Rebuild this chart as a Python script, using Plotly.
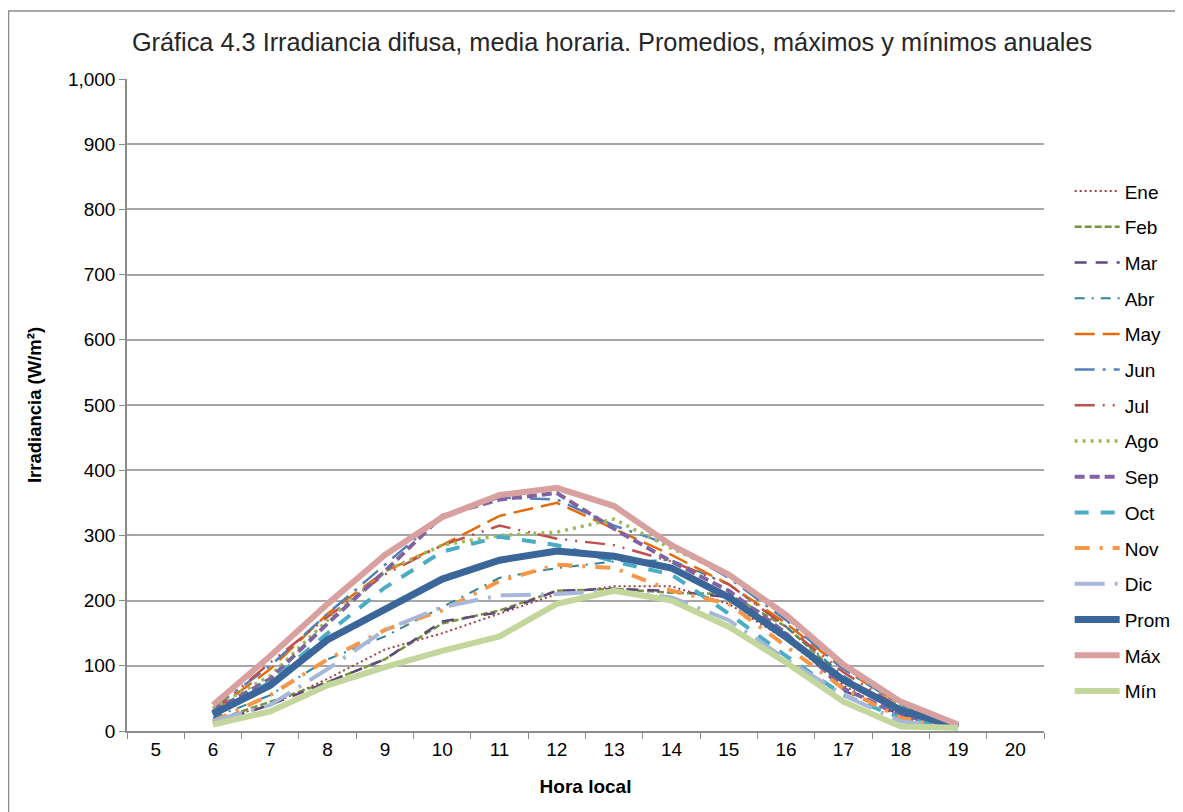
import plotly.graph_objects as go

horas = [str(h) for h in range(6, 20)]
categorias = [str(h) for h in range(5, 21)]

ene = [15, 40, 80, 125, 150, 180, 210, 222, 222, 195, 140, 70, 20, 5]
feb = [15, 45, 75, 110, 165, 185, 215, 218, 212, 210, 160, 80, 30, 5]
mar = [12, 40, 75, 110, 168, 182, 215, 218, 215, 205, 150, 62, 25, 5]
abr = [20, 55, 110, 145, 190, 235, 250, 260, 262, 225, 160, 85, 30, 5]
may = [30, 95, 180, 245, 285, 330, 350, 310, 270, 225, 165, 95, 40, 8]
jun = [35, 100, 180, 255, 330, 358, 355, 315, 285, 235, 170, 95, 40, 8]
jul = [30, 105, 175, 240, 285, 315, 295, 285, 260, 225, 160, 90, 35, 8]
ago = [35, 85, 170, 245, 285, 300, 305, 325, 280, 240, 175, 100, 40, 8]
sep = [30, 80, 165, 245, 330, 355, 365, 310, 260, 215, 150, 65, 25, 5]
oct_ = [25, 75, 150, 220, 275, 298, 285, 260, 240, 180, 115, 55, 20, 5]
nov = [15, 55, 110, 155, 185, 230, 255, 250, 215, 195, 130, 65, 20, 5]
dic = [15, 40, 95, 155, 190, 208, 210, 215, 205, 170, 110, 55, 15, 5]
prom = [26, 70, 140, 186, 233, 262, 276, 268, 250, 205, 144, 78, 32, 6]
maxi = [40, 115, 195, 270, 328, 362, 373, 345, 285, 240, 178, 102, 45, 10]
mini = [10, 30, 70, 98, 123, 145, 195, 215, 200, 160, 105, 45, 7, 5]

series = [
    ("Ene", ene, "#A0403E", 2, "2px,3px"),
    ("Feb", feb, "#77933C", 2.5, "7px,3px"),
    ("Mar", mar, "#604A7B", 2.5, "12px,9px"),
    ("Abr", abr, "#31859C", 2, "10px,7px,2px,7px"),
    ("May", may, "#E46C0A", 2.5, "20px,8px"),
    ("Jun", jun, "#4F81BD", 2.5, "20px,8px,3px,8px"),
    ("Jul", jul, "#C0504D", 2.5, "20px,8px,2px,8px,2px,8px"),
    ("Ago", ago, "#9BBB59", 3.5, "3px,5px"),
    ("Sep", sep, "#8064A2", 4, "10px,5px"),
    ("Oct", oct_, "#4BACC6", 4, "14px,12px"),
    ("Nov", nov, "#F79646", 4, "15px,10px,3px,10px"),
    ("Dic", dic, "#A6B7D9", 4, "30px,10px,3px,10px"),
    ("Prom", prom, "#3A6699", 7, "solid"),
    ("Máx", maxi, "#D9A0A0", 6, "solid"),
    ("Mín", mini, "#C3D69B", 6, "solid"),
]

fig = go.Figure()
for nombre, valores, color, ancho, trazo in series:
    fig.add_trace(go.Scatter(x=horas, y=valores, mode="lines", name=nombre,
                             legendgroup=nombre,
                             line=dict(color=color, width=ancho, dash=trazo)))

# marco exterior del gráfico
fig.add_shape(type="rect", xref="paper", yref="paper",
              x0=-0.1292, x1=1.2, y0=-0.2, y1=1.1043,
              line=dict(color="#8C8C8C", width=1.5))

fig.update_layout(
    width=1183, height=812,
    margin=dict(l=119, r=147, t=71, b=89),
    paper_bgcolor="white", plot_bgcolor="white",
    font=dict(family="Liberation Sans, Arial", size=19, color="black"),
    title=dict(text="Gráfica 4.3 Irradiancia difusa, media horaria. Promedios, máximos y mínimos anuales",
               x=0.5106, xref="container", xanchor="center",
               y=0.958, yref="container", yanchor="middle",
               font=dict(size=25.3, color="#262626")),
    xaxis=dict(type="category", categoryorder="array", categoryarray=categorias,
               range=[-0.5, 15.5], tickson="boundaries", ticks="outside", ticklen=6,
               tickcolor="#8C8C8C", showline=True, linecolor="#8C8C8C", linewidth=1.5,
               showgrid=False,
               title=dict(text="<b>Hora local</b>", font=dict(size=19), standoff=21)),
    yaxis=dict(range=[0, 1000], dtick=100, tickformat=",d", ticks="outside", ticklen=6,
               tickcolor="#8C8C8C", showline=True, linecolor="#8C8C8C", linewidth=1.5,
               gridcolor="#A6A6A6", gridwidth=1.5, zeroline=False,
               title=dict(text="<b>Irradiancia (W/m²)</b>", font=dict(size=18.5), standoff=21)),
    legend=dict(x=1.028, y=0.857, xanchor="left", yanchor="top",
                traceorder="grouped", tracegroupgap=8, itemwidth=45,
                font=dict(size=19), bgcolor="rgba(0,0,0,0)"),
)

fig.write_html("out.html")
